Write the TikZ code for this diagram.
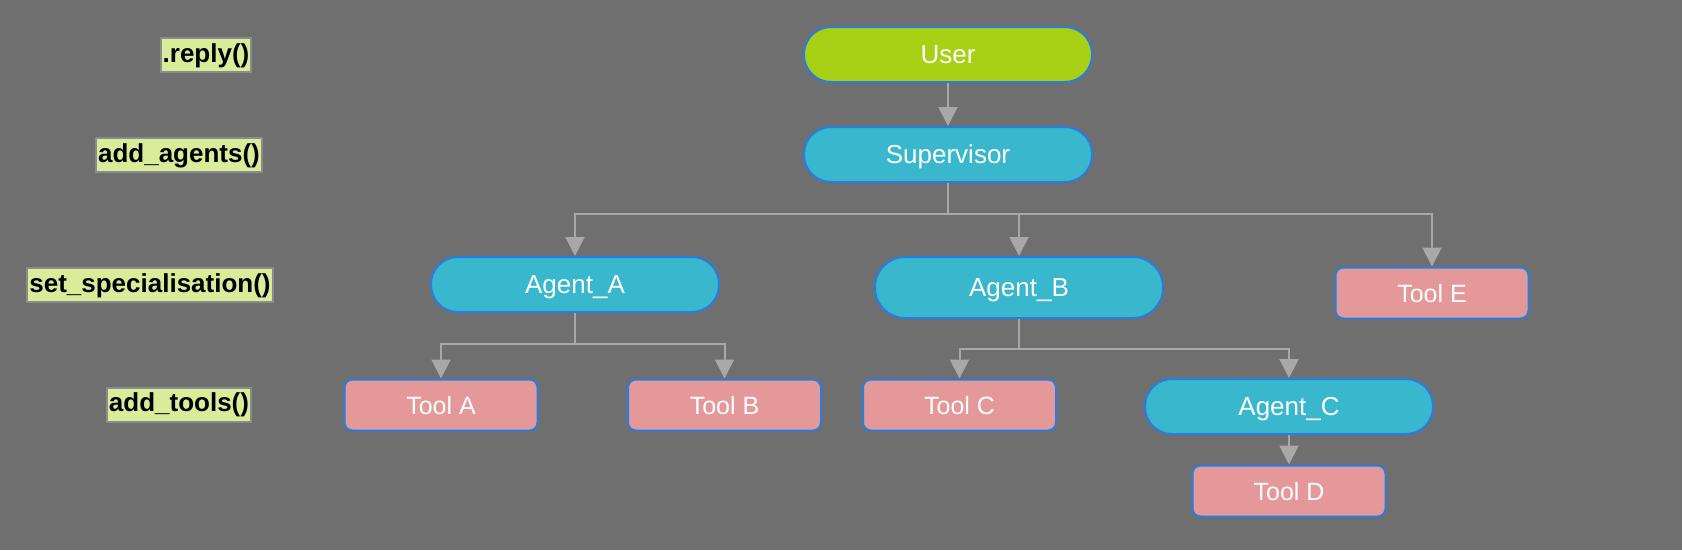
\documentclass[tikz,border=0pt]{standalone}
\usepackage{fontspec}
\setmainfont{Liberation Sans}
\usetikzlibrary{arrows.meta}
\definecolor{bg}{RGB}{111,111,111}
\definecolor{userfill}{RGB}{168,208,20}
\definecolor{agentfill}{RGB}{56,183,205}
\definecolor{toolfill}{RGB}{228,152,153}
\definecolor{nodeborder}{RGB}{40,125,225}
\definecolor{connc}{RGB}{168,168,168}
\definecolor{labfill}{RGB}{218,236,154}
\definecolor{labborder}{RGB}{140,140,140}
\tikzset{
  pill/.style={draw=nodeborder, line width=2pt, rounded corners=27pt, minimum width=288pt, minimum height=55pt, inner sep=0pt, text height=18.6pt, text depth=0pt, text=white, font=\fontsize{26}{30}\selectfont},
  userbox/.style={pill, fill=userfill},
  agentbox/.style={pill, fill=agentfill},
  toolbox/.style={draw=nodeborder, line width=2pt, rounded corners=8pt, fill=toolfill, minimum width=193pt, minimum height=51pt, inner sep=0pt, text height=18pt, text depth=0pt, text=white, font=\fontsize{25}{30}\selectfont},
  labbox/.style={draw=labborder, line width=2pt, fill=labfill, inner xsep=2pt, inner ysep=0pt, minimum height=34pt, text height=19pt, text depth=5pt, text=black, font=\fontsize{26}{30}\selectfont\bfseries},
  conn/.style={draw=connc, line width=2pt, -{Triangle[width=19pt,length=19pt]}, color=connc},
  bus/.style={draw=connc, line width=2pt}
}
\begin{document}
\begin{tikzpicture}[x=1pt,y=-1pt]
\fill[bg] (0,0) rectangle (1682,550);
\useasboundingbox (0,0) rectangle (1682,550);
% labels
\node[labbox] (l1) at (206,55) {.reply()};
\node[labbox] (l2) at (179,155) {add\_agents()};
\node[labbox] (l3) at (150,285) {set\_specialisation()};
\node[labbox] (l4) at (179,404.5) {add\_tools()};
% nodes
\node[userbox] (user) at (948,54.5) {User};
\node[agentbox] (sup) at (948,154.5) {Supervisor};
\node[agentbox] (agA) at (575,284.5) {Agent\_A};
\node[agentbox, minimum height=61pt, rounded corners=30pt] (agB) at (1019,287.5) {Agent\_B};
\node[toolbox] (toolE) at (1432,293) {Tool E};
\node[toolbox] (toolA) at (441,405) {Tool A};
\node[toolbox] (toolB) at (724.5,405) {Tool B};
\node[toolbox] (toolC) at (959.5,405) {Tool C};
\node[agentbox] (agC) at (1289,406.5) {Agent\_C};
\node[toolbox] (toolD) at (1289,491) {Tool D};
% connectors
\coordinate (busS) at (948,214);
\coordinate (busA) at (575,344);
\coordinate (busB) at (1019,349);
\draw[conn] (user) -- (sup);
\draw[bus] (sup.south) -- (busS);
\draw[conn] (busS) -| (agA.north);
\draw[conn] (busS) -| (agB.north);
\draw[conn] (busS) -| (toolE.north);
\draw[bus] (agA.south) -- (busA);
\draw[conn] (busA) -| (toolA.north);
\draw[conn] (busA) -| (toolB.north);
\draw[bus] (agB.south) -- (busB);
\draw[conn] (busB) -| (toolC.north);
\draw[conn] (busB) -| (agC.north);
\draw[conn] (agC) -- (toolD);
\end{tikzpicture}
\end{document}
